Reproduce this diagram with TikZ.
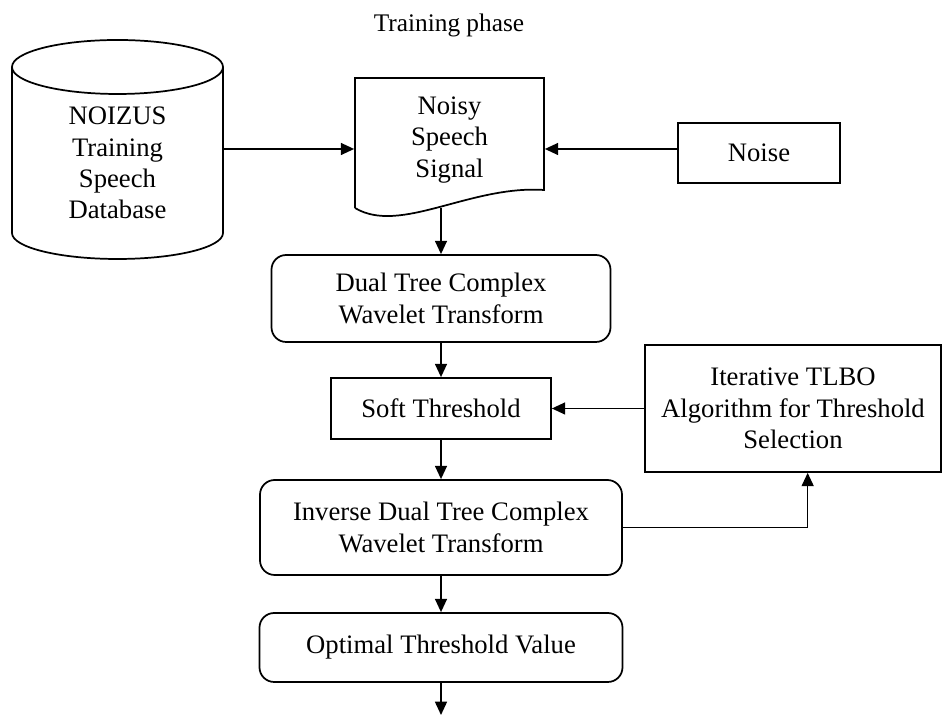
\documentclass[tikz,border=0pt]{standalone}
\usepackage{fontspec}
\setmainfont{Liberation Serif}
\usetikzlibrary{arrows.meta}

\tikzset{
  blk/.style={draw, line width=1.3pt, inner sep=0pt, align=center, font=\fontsize{20}{23.5}\selectfont},
  rblk/.style={blk, rounded corners=11pt},
  arr/.style={line width=1.2pt, -{Triangle[length=10pt,width=9pt]}}
}

\begin{document}
\begin{tikzpicture}[x=0.75pt,y=0.75pt,line width=1.3pt]
	\useasboundingbox (0,0) rectangle (943,716);
	\node[font=\fontsize{19}{23}\selectfont] (title) at (449,691) {Training phase};
	% database
	\node[blk,draw=none,minimum width=158.25pt,minimum height=130pt] (db) at (117.5,553) {NOIZUS\\Training\\Speech\\Database};
	\draw (117.5,649) ellipse [x radius=79.125pt, y radius=20.25pt];
	\draw (12,649) -- (12,483) arc [start angle=180, end angle=360, x radius=79.125pt, y radius=19.5pt] -- (223,649);
	% document
	\node[blk,draw=none,minimum width=141.75pt,minimum height=97.5pt] (doc) at (449.5,576) {Noisy\\Speech\\Signal};
	\draw (355,508) -- (355,638) -- (544,638) -- (544,526) .. controls (470,531) and (400,481) .. (355,508);
	\node[blk,minimum width=121.5pt,minimum height=45pt] (noise) at (759,563) {Noise};
	\node[rblk,minimum width=254.25pt,minimum height=65.25pt] (dt) at (441,417.5) {Dual Tree Complex\\Wavelet Transform};
	\node[blk,minimum width=165pt,minimum height=45.75pt] (soft) at (441,307.5) {Soft Threshold};
	\node[blk,minimum width=222pt,minimum height=95.25pt] (tlbo) at (793,307.5) {Iterative TLBO\\Algorithm for Threshold\\Selection};
	\node[rblk,minimum width=271.5pt,minimum height=71.25pt] (idt) at (441,188.5) {Inverse Dual Tree Complex\\Wavelet Transform};
	\node[rblk,minimum width=272.25pt,minimum height=51.75pt] (opt) at (441,68.5) {Optimal Threshold Value};
	\coordinate (lvl) at (0,567);
	\coordinate (wave) at (441,508);
	\coordinate (out) at (441,1);
	% arrows
	\draw[arr] (db.east |- lvl) -- (doc.west |- lvl);
	\draw[arr] (noise.west |- lvl) -- (doc.east |- lvl);
	\draw[arr] (wave) -- (dt.north);
	\draw[arr] (dt) -- (soft);
	\draw[arr] (tlbo) -- (soft);
	\draw[arr] (soft) -- (idt);
	\draw[arr] (idt.east) -| ([xshift=11pt]tlbo.south);
	\draw[arr] (idt) -- (opt);
	\draw[arr] (opt) -- (out);
\end{tikzpicture}
\end{document}
